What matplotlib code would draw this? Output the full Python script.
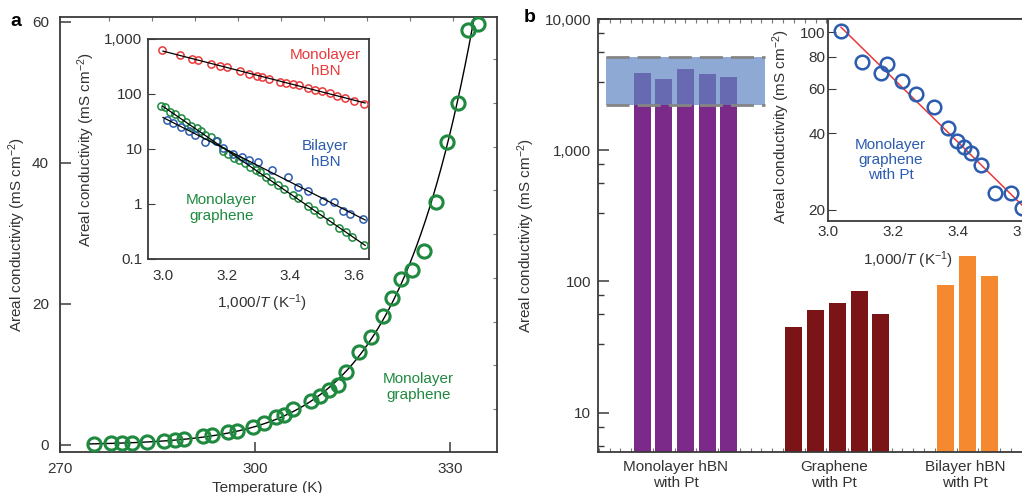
import numpy as np
import matplotlib
matplotlib.use('Agg')
import matplotlib.pyplot as plt
from matplotlib.ticker import FixedLocator, FuncFormatter, NullFormatter, MultipleLocator

plt.rcParams['font.family'] = ['Liberation Sans', 'DejaVu Sans']
plt.rcParams['mathtext.fontset'] = 'custom'
plt.rcParams['mathtext.rm'] = 'Liberation Sans'
plt.rcParams['mathtext.it'] = 'Liberation Sans:italic'
plt.rcParams['mathtext.default'] = 'regular'

# ---- panel a, main: monolayer graphene vs temperature
temp_k = [275.2, 277.8, 279.5, 281.1, 283.4, 286.0, 287.7, 289.1, 292.0, 293.4,
          295.8, 297.2, 299.7, 301.3, 303.2, 304.5, 305.8, 308.6, 310.0, 311.3,
          312.7, 314.0, 316.0, 317.9, 319.7, 321.1, 322.4, 324.2, 326.0, 327.8,
          329.5, 331.2, 332.8, 334.3]
sigma_gr = [0.14, 0.24, 0.24, 0.28, 0.38, 0.52, 0.71, 0.90, 1.28, 1.37,
            1.84, 2.03, 2.6, 3.07, 3.92, 4.3, 5.05, 6.2, 7.0, 7.8,
            8.5, 10.3, 13.2, 15.3, 18.3, 20.9, 23.5, 24.8, 27.5, 34.5,
            43.0, 48.5, 58.8, 59.7]

# ---- panel a, inset: Arrhenius plots
inv_t_hbn1 = [2.998, 3.053, 3.090, 3.111, 3.151, 3.180, 3.202, 3.242, 3.269, 3.295,
              3.312, 3.332, 3.366, 3.385, 3.409, 3.427, 3.454, 3.477, 3.500, 3.526,
              3.547, 3.573, 3.600, 3.631]
sigma_hbn1 = [619, 516, 437, 406, 353, 325, 303, 256, 232, 213,
              207, 188, 168, 159, 152, 144, 130, 120, 114, 103,
              93, 83, 75.5, 65.6]
inv_t_hbn2 = [3.012, 3.030, 3.058, 3.082, 3.101, 3.132, 3.166, 3.188, 3.219, 3.247,
              3.271, 3.299, 3.342, 3.394, 3.423, 3.455, 3.502, 3.538, 3.564, 3.586,
              3.628]
sigma_hbn2 = [33.5, 29.1, 25.2, 21.1, 17.8, 13.3, 13.6, 10.2, 8.0, 6.95,
              6.2, 5.7, 4.03, 3.08, 2.02, 1.69, 1.12, 1.06, 0.73, 0.64,
              0.53]
inv_t_gr = [2.993, 3.007, 3.022, 3.039, 3.056, 3.071, 3.087, 3.106, 3.120, 3.133,
            3.150, 3.169, 3.190, 3.203, 3.222, 3.239, 3.259, 3.274, 3.292, 3.306,
            3.322, 3.340, 3.361, 3.380, 3.409, 3.423, 3.457, 3.475, 3.494, 3.526,
            3.554, 3.575, 3.595, 3.631]
sigma_gr_inset = [60.4, 57.2, 47.5, 42.6, 36.0, 31.2, 26.0, 23.6, 21.3, 17.8,
                  16.1, 13.6, 9.07, 8.0, 6.76, 6.22, 5.55, 4.69, 4.08, 3.71,
                  3.0, 2.57, 2.20, 1.81, 1.43, 1.26, 0.90, 0.78, 0.64, 0.48,
                  0.366, 0.309, 0.243, 0.173]

# ---- panel b: bars
hbn_pt = [3890, 3460, 4170, 3780, 3630]
graphene_pt = [45.2, 60.5, 68.4, 84.3, 56.5]
bilayer_pt = [93.7, 156, 110]
group_names = ['Monolayer hBN\nwith Pt', 'Graphene\nwith Pt', 'Bilayer hBN\nwith Pt']
band_low, band_high = 2210, 5100

# ---- panel b, inset
inv_t_pt = [3.041, 3.105, 3.183, 3.164, 3.228, 3.271, 3.325, 3.368, 3.398, 3.418,
            3.439, 3.471, 3.515, 3.562, 3.596]
sigma_pt = [101.2, 76.6, 74.8, 69.0, 64.3, 57.0, 51.0, 42.1, 37.4, 35.5,
            33.4, 30.0, 23.3, 23.4, 20.3]

W, H = 1022, 493
TXT = '#333333'
GREEN = '#1f8a3f'
RED = '#e8393b'
BLUE = '#2c5caf'
YLAB = 'Areal conductivity (mS cm$^{-2}$)'
XLAB = '1,000/$\\mathit{T}$ (K$^{-1}$)'


def rect(l, t, r, b):
    return [l / W, (H - b) / H, (r - l) / W, (b - t) / H]


def style(ax, lw=1.3):
    for s in ax.spines.values():
        s.set_linewidth(lw)
        s.set_color('#3a3a3a')
    ax.tick_params(which='both', direction='in', colors='#3a3a3a', labelcolor=TXT, labelsize=11)


def fit_line(x, y, xs):
    p = np.polyfit(x, np.log10(y), 1)
    return 10 ** np.polyval(p, xs)


comma = FuncFormatter(lambda v, p: f'{v:,.0f}' if v >= 1 else f'{v:g}')

fig = plt.figure(figsize=(W / 100, H / 100), dpi=100)

# ================= panel a main
ax = fig.add_axes(rect(60, 17, 497, 452))
style(ax)
tt = np.linspace(274.5, 336, 300)
ax.plot(tt, fit_line(1000 / np.array(temp_k), sigma_gr, 1000 / tt), color='black', lw=1.0, zorder=2)
ax.plot(temp_k, sigma_gr, 'o', ms=9.5, mfc='none', mec=GREEN, mew=2.2, zorder=3)
ax.set_xlim(270, 337.2)
ax.set_ylim(-1, 60.7)
ax.set_xticks([270, 300, 330])
ax.set_yticks([0, 20, 40, 60])
ax.tick_params(axis='y', length=8, width=1.1, pad=8)
ax.tick_params(axis='x', length=7, width=1.1, pad=7)
ax.set_xlabel('Temperature (K)', fontsize=11, color=TXT)
ax.xaxis.set_label_coords(0.474, -0.066)
ax.set_ylabel(YLAB, fontsize=11, color=TXT)
ax.yaxis.set_label_coords(-0.073, 0.5)
ax.text(325.1, 8.2, 'Monolayer\ngraphene', color=GREEN, fontsize=11, ha='center', va='center',
        linespacing=1.2)
sr = ax.secondary_yaxis('right')
sr.set_yticks(np.arange(5.1, 60, 6.2))
sr.tick_params(direction='in', length=3, labelright=False, color='#777777')
sr.spines['right'].set_visible(False)
st = ax.secondary_xaxis('top')
st.set_xticks(np.arange(277.6, 337, 6.6))
st.tick_params(direction='in', length=3, labeltop=False, color='#777777')
st.spines['top'].set_visible(False)
fig.text(16 / W, (H - 22) / H, 'a', fontsize=14, fontweight='bold', ha='center', va='center')

# ================= panel a inset
ai = fig.add_axes(rect(148, 39, 369, 259))
style(ai)
ai.set_yscale('log')
xs = np.linspace(3.0, 3.635, 50)
for x, y, c in [(inv_t_hbn1, sigma_hbn1, RED), (inv_t_gr, sigma_gr_inset, GREEN),
                (inv_t_hbn2, sigma_hbn2, BLUE)]:
    ai.plot(x, y, 'o', ms=5.2, mfc='none', mec=c, mew=1.1, zorder=3)
for x, y in [(inv_t_hbn1, sigma_hbn1), (inv_t_gr, sigma_gr_inset), (inv_t_hbn2, sigma_hbn2)]:
    ai.plot(xs, fit_line(x, y, xs), color='black', lw=0.9, zorder=4)
ai.set_xlim(2.953, 3.647)
ai.set_ylim(0.098, 1000)
ai.set_xticks([3.0, 3.2, 3.4, 3.6])
ai.xaxis.set_major_formatter(FuncFormatter(lambda v, p: f'{v:.1f}'))
ai.yaxis.set_major_locator(FixedLocator([0.1, 1, 10, 100, 1000]))
ai.yaxis.set_major_formatter(comma)
ai.yaxis.set_minor_locator(FixedLocator([]))
ai.tick_params(axis='y', length=5, pad=4)
ai.tick_params(axis='x', length=0, pad=7)
ai.set_xlabel(XLAB, fontsize=11, color=TXT)
ai.xaxis.set_label_coords(0.516, -0.152)
ai.set_ylabel(YLAB, fontsize=11, color=TXT)
ai.yaxis.set_label_coords(-0.231, 0.5)
ai.text(3.51, 369, 'Monolayer\nhBN', color=RED, fontsize=11, ha='center', va='center', linespacing=1.15)
ai.text(3.51, 8.0, 'Bilayer\nhBN', color=BLUE, fontsize=11, ha='center', va='center', linespacing=1.15)
ai.text(3.184, 0.84, 'Monolayer\ngraphene', color=GREEN, fontsize=11, ha='center', va='center',
        linespacing=1.15)

# ================= panel b main
ab = fig.add_axes(rect(598, 19, 1045, 452))
style(ab)
ab.set_yscale('log')
ab.spines['right'].set_visible(False)
pos_hbn = np.arange(len(hbn_pt))
pos_gr = np.arange(len(graphene_pt)) + 7
pos_bi = np.arange(len(bilayer_pt)) + 14
ab.bar(pos_hbn, hbn_pt, width=0.78, color='#7b2a8a', zorder=2)
ab.bar(pos_gr, graphene_pt, width=0.78, color='#7a1416', zorder=2)
ab.bar(pos_bi, bilayer_pt, width=0.78, color='#f4892f', zorder=2)
bx0, bx1 = pos_hbn[0] - 1.67, pos_hbn[-1] + 1.68
ab.fill_between([bx0, bx1], band_low, band_high, color='#5f85c3', alpha=0.7, lw=0, zorder=3)
for yv in (band_low, band_high):
    ab.plot([bx0, bx1], [yv, yv], color='#858585', lw=2.0, ls=(0, (8.3, 2.9)), zorder=4)
ab.set_xlim(-2.03, 18.57)
ab.set_ylim(5, 10000)
ab.yaxis.set_major_locator(FixedLocator([10, 100, 1000, 10000]))
ab.yaxis.set_major_formatter(comma)
ab.yaxis.set_minor_locator(FixedLocator([d * f for d in (1, 10, 100, 1000) for f in (3.3, 5.6, 7.8)]))
ab.yaxis.set_minor_formatter(NullFormatter())
ab.tick_params(axis='y', which='major', length=8, width=1.1, pad=5)
ab.tick_params(axis='y', which='minor', length=4, width=1.0)
ab.set_xticks([pos_hbn.mean() - 0.45, pos_gr.mean() - 0.15, pos_bi.mean() - 0.1])
ab.set_xticklabels(group_names, fontsize=11, linespacing=1.15)
ab.xaxis.set_minor_locator(MultipleLocator(0.5))
ab.tick_params(axis='x', which='major', length=0, pad=6)
ab.tick_params(axis='x', which='minor', length=3, width=0.8, top=True, color='#777777')
ab.set_ylabel(YLAB, fontsize=11, color=TXT)
ab.yaxis.set_label_coords(-0.136, 0.5)
fig.text(530 / W, (H - 18) / H, 'b', fontsize=14, fontweight='bold', ha='center', va='center')

# ================= panel b inset
bi = fig.add_axes(rect(828, 19, 1050, 221))
style(bi)
bi.set_facecolor('white')
bi.set_yscale('log')
xp = np.linspace(3.04, 3.66, 50)
bi.plot(xp, fit_line(inv_t_pt, sigma_pt, xp), color=RED, lw=1.1, zorder=2)
bi.plot(inv_t_pt, sigma_pt, 'o', ms=9.8, mfc='none', mec=BLUE, mew=1.8, zorder=3, clip_on=False)
bi.set_xlim(3.0, 3.683)
bi.set_ylim(18.1, 112.8)
bi.set_xticks([3.0, 3.2, 3.4, 3.6])
bi.xaxis.set_major_formatter(FuncFormatter(lambda v, p: f'{v:.1f}'))
bi.yaxis.set_major_locator(FixedLocator([20, 40, 60, 80, 100]))
bi.yaxis.set_major_formatter(FuncFormatter(lambda v, p: f'{v:.0f}'))
bi.yaxis.set_minor_locator(FixedLocator([]))
bi.yaxis.set_minor_formatter(NullFormatter())
bi.tick_params(axis='y', length=6, pad=2)
bi.tick_params(axis='x', length=0, pad=3)
bi.set_xlabel(XLAB, fontsize=11, color=TXT)
bi.xaxis.set_label_coords(0.36, -0.14)
bi.set_ylabel(YLAB, fontsize=11, color=TXT)
bi.yaxis.set_label_coords(-0.162, 0.47)
bi.text(3.192, 31.5, 'Monolayer\ngraphene\nwith Pt', color=BLUE, fontsize=11, ha='center',
        va='center', linespacing=1.1)

fig.savefig('out.png', dpi=100)
